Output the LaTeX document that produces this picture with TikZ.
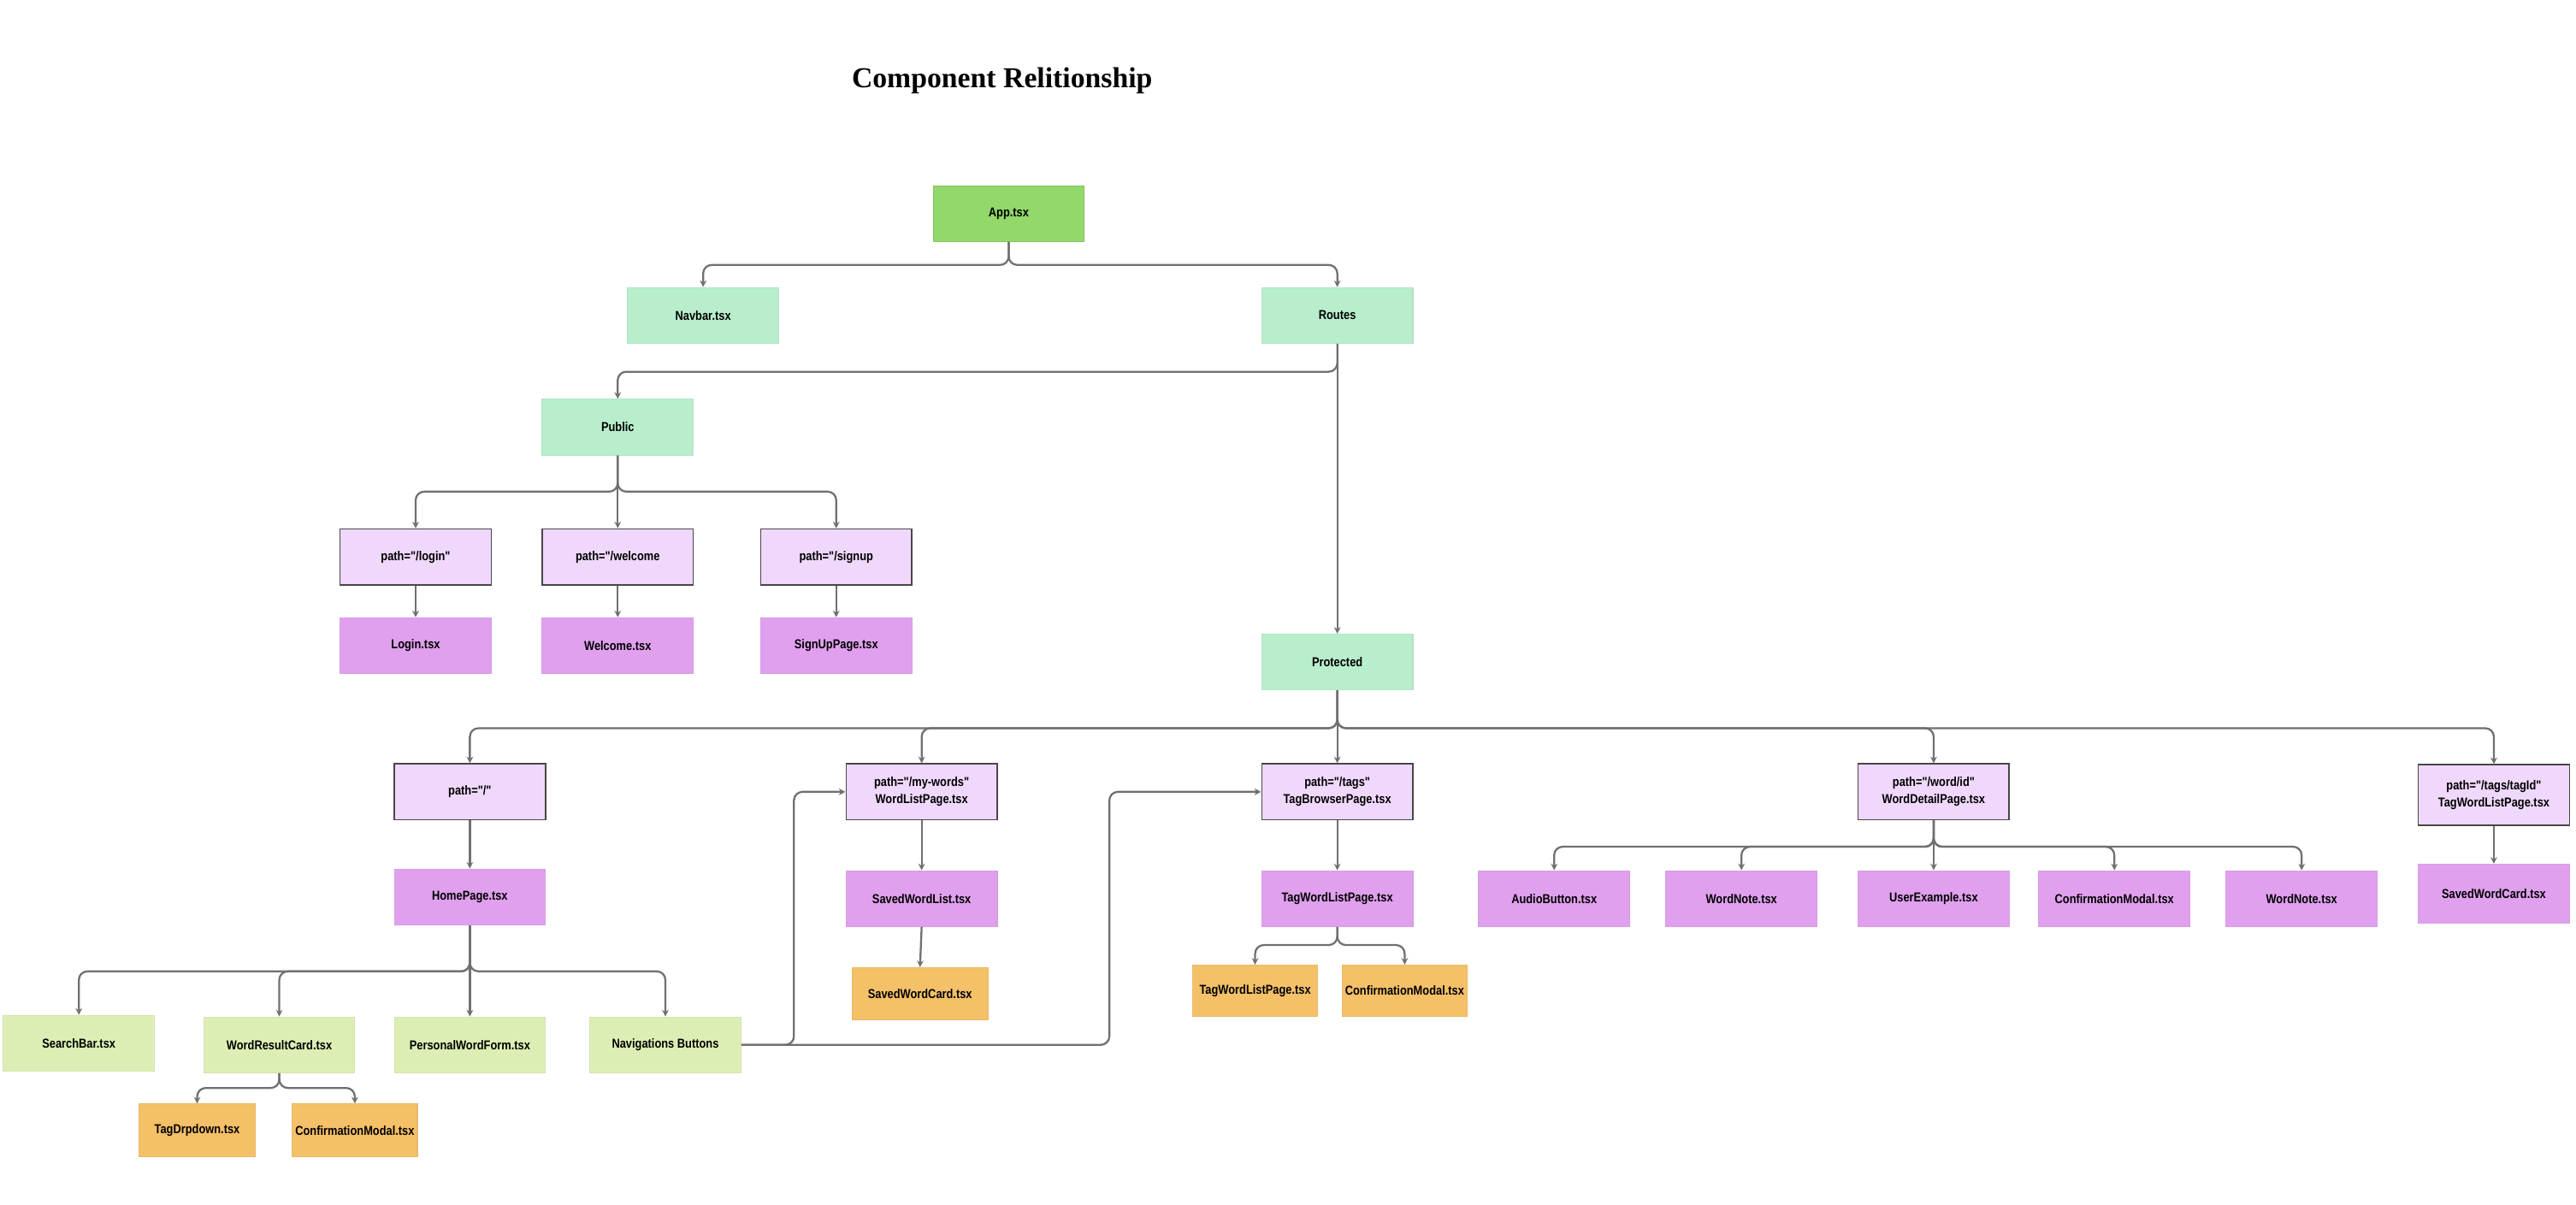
\documentclass[tikz,border=0pt]{standalone}
\usepackage{fontspec}
\setmainfont{Liberation Sans}
\newfontfamily\boxfont{Liberation Sans}[FakeStretch=0.85]
\newfontfamily\titlefont{Liberation Serif}
\usetikzlibrary{arrows.meta}
\definecolor{appgreen}{HTML}{93D86A}
\definecolor{mint}{HTML}{B8EECC}
\definecolor{lav}{HTML}{F0D8FC}
\definecolor{purp}{HTML}{E0A0EE}
\definecolor{lime}{HTML}{DDEEB4}
\definecolor{orng}{HTML}{F4C068}
\definecolor{linegray}{HTML}{707070}
\tikzset{
  box/.style={rectangle, inner sep=1pt, align=center, minimum width=1.767cm, minimum height=0.653cm,
    font=\boxfont\bfseries\fontsize{4.3}{5.6}\selectfont, text=black},
  appbox/.style={box, fill=appgreen, draw=appgreen!90!black, line width=0.3pt},
  mintbox/.style={box, fill=mint, draw=mint!90!gray, line width=0.3pt},
  pathbox/.style={box, fill=lav, draw=black!72, line width=0.45pt},
  pagebox/.style={box, fill=purp, draw=purp!90!gray, line width=0.3pt},
  limebox/.style={box, fill=lime, draw=lime!90!gray, line width=0.3pt},
  orbox/.style={box, fill=orng, draw=orng!90!gray, line width=0.3pt},
  conn/.style={draw=linegray, line width=0.65pt, rounded corners=1mm,
    -{Stealth[length=2.2pt,width=2.2pt]}},
}
\begin{document}
\begin{tikzpicture}[x=0.01921cm, y=-0.01921cm]
\useasboundingbox (0,0) rectangle (1568,733);

\node[font=\titlefont\bfseries\fontsize{9.6}{11}\selectfont] (title) at (610,49) {Component Relitionship};

% level 0-1
\node[appbox] (app) at (614,130) {App.tsx};
\node[mintbox] (navbar) at (428,192) {Navbar.tsx};
\node[mintbox] (routes) at (814,192) {Routes};
\node[mintbox] (public) at (376,260) {Public};
\node[mintbox] (protected) at (814,403) {Protected};

% public routes
\node[pathbox] (plogin) at (253,339) {path="/login"};
\node[pathbox] (pwelcome) at (376,339) {path="/welcome};
\node[pathbox] (psignup) at (509,339) {path="/signup};
\node[pagebox] (login) at (253,393) {Login.tsx};
\node[pagebox] (welcome) at (376,393) {Welcome.tsx};
\node[pagebox] (signup) at (509,393) {SignUpPage.tsx};

% protected routes
\node[pathbox] (proot) at (286,482) {path="/"};
\node[pathbox] (pmywords) at (561,482) {path="/my-words"\\WordListPage.tsx};
\node[pathbox] (ptags) at (814,482) {path="/tags"\\TagBrowserPage.tsx};
\node[pathbox] (pword) at (1177,482) {path="/word/id"\\WordDetailPage.tsx};
\node[pathbox, minimum height=0.71cm] (ptagid) at (1518,484) {path="/tags/tagId"\\TagWordListPage.tsx};

\node[pagebox] (home) at (286,546) {HomePage.tsx};
\node[pagebox] (savedlist) at (561,547) {SavedWordList.tsx};
\node[pagebox] (tagwordlist) at (814,547) {TagWordListPage.tsx};
\node[pagebox] (audio) at (946,547) {AudioButton.tsx};
\node[pagebox] (wordnote) at (1060,547) {WordNote.tsx};
\node[pagebox] (userex) at (1177,547) {UserExample.tsx};
\node[pagebox] (confmodal) at (1287,547) {ConfirmationModal.tsx};
\node[pagebox] (wordnoteb) at (1401,547) {WordNote.tsx};
\node[pagebox, minimum height=0.69cm] (savedcardr) at (1518,544) {SavedWordCard.tsx};

\node[orbox, minimum width=1.594cm, minimum height=0.615cm] (savedcard) at (560,605) {SavedWordCard.tsx};
\node[orbox, minimum width=1.46cm, minimum height=0.596cm] (tagwordlistb) at (764,603) {TagWordListPage.tsx};
\node[orbox, minimum width=1.46cm, minimum height=0.596cm] (confmodalb) at (855,603) {ConfirmationModal.tsx};

\node[limebox] (search) at (48,635) {SearchBar.tsx};
\node[limebox] (wrcard) at (170,636) {WordResultCard.tsx};
\node[limebox] (pwform) at (286,636) {PersonalWordForm.tsx};
\node[limebox] (navbtn) at (405,636) {Navigations Buttons};

\node[orbox, minimum width=1.364cm, minimum height=0.615cm] (tagdrop) at (120,688) {TagDrpdown.tsx};
\node[orbox, minimum width=1.383cm, minimum height=0.615cm] (confmodalc) at (216,688) {ConfirmationModal.tsx};

% connectors
\draw[conn] (app.south) -- ++(0,14) -| (navbar.north);
\draw[conn] (app.south) -- ++(0,14) -| (routes.north);
\draw[conn] (routes.south) -- ++(0,17) -| (public.north);
\draw[conn] (routes.south) -- (protected.north);

\draw[conn] (public.south) -- ++(0,22) -| (plogin.north);
\draw[conn] (public.south) -- (pwelcome.north);
\draw[conn] (public.south) -- ++(0,22) -| (psignup.north);
\draw[conn] (plogin.south) -- (login.north);
\draw[conn] (pwelcome.south) -- (welcome.north);
\draw[conn] (psignup.south) -- (signup.north);

\draw[conn] (protected.south) -- ++(0,23) -| (proot.north);
\draw[conn] (protected.south) -- ++(0,23) -| (pmywords.north);
\draw[conn] (protected.south) -- (ptags.north);
\draw[conn] (protected.south) -- ++(0,23) -| (pword.north);
\draw[conn] (protected.south) -- ++(0,23) -| (ptagid.north);

\draw[conn] (proot.south) -- (home.north);
\draw[conn] (pmywords.south) -- (savedlist.north);
\draw[conn] (savedlist.south) -- (savedcard.north);
\draw[conn] (ptags.south) -- (tagwordlist.north);
\draw[conn] (tagwordlist.south) -- ++(0,11) -| (tagwordlistb.north);
\draw[conn] (tagwordlist.south) -- ++(0,11) -| (confmodalb.north);
\draw[conn] (ptagid.south) -- (savedcardr.north);

\draw[conn] (pword.south) -- ++(0,16) -| (audio.north);
\draw[conn] (pword.south) -- ++(0,16) -| (wordnote.north);
\draw[conn] (pword.south) -- (userex.north);
\draw[conn] (pword.south) -- ++(0,16) -| (confmodal.north);
\draw[conn] (pword.south) -- ++(0,16) -| (wordnoteb.north);

\draw[conn] (home.south) -- ++(0,28) -| (search.north);
\draw[conn] (home.south) -- ++(0,28) -| (wrcard.north);
\draw[conn] (home.south) -- (pwform.north);
\draw[conn] (home.south) -- ++(0,28) -| (navbtn.north);

\draw[conn] (wrcard.south) -- ++(0,9) -| (tagdrop.north);
\draw[conn] (wrcard.south) -- ++(0,9) -| (confmodalc.north);

\draw[conn] (navbtn.east) -- ++(32,0) |- (pmywords.west);
\draw[conn] (navbtn.east) -- ++(224,0) |- (ptags.west);
\end{tikzpicture}
\end{document}
